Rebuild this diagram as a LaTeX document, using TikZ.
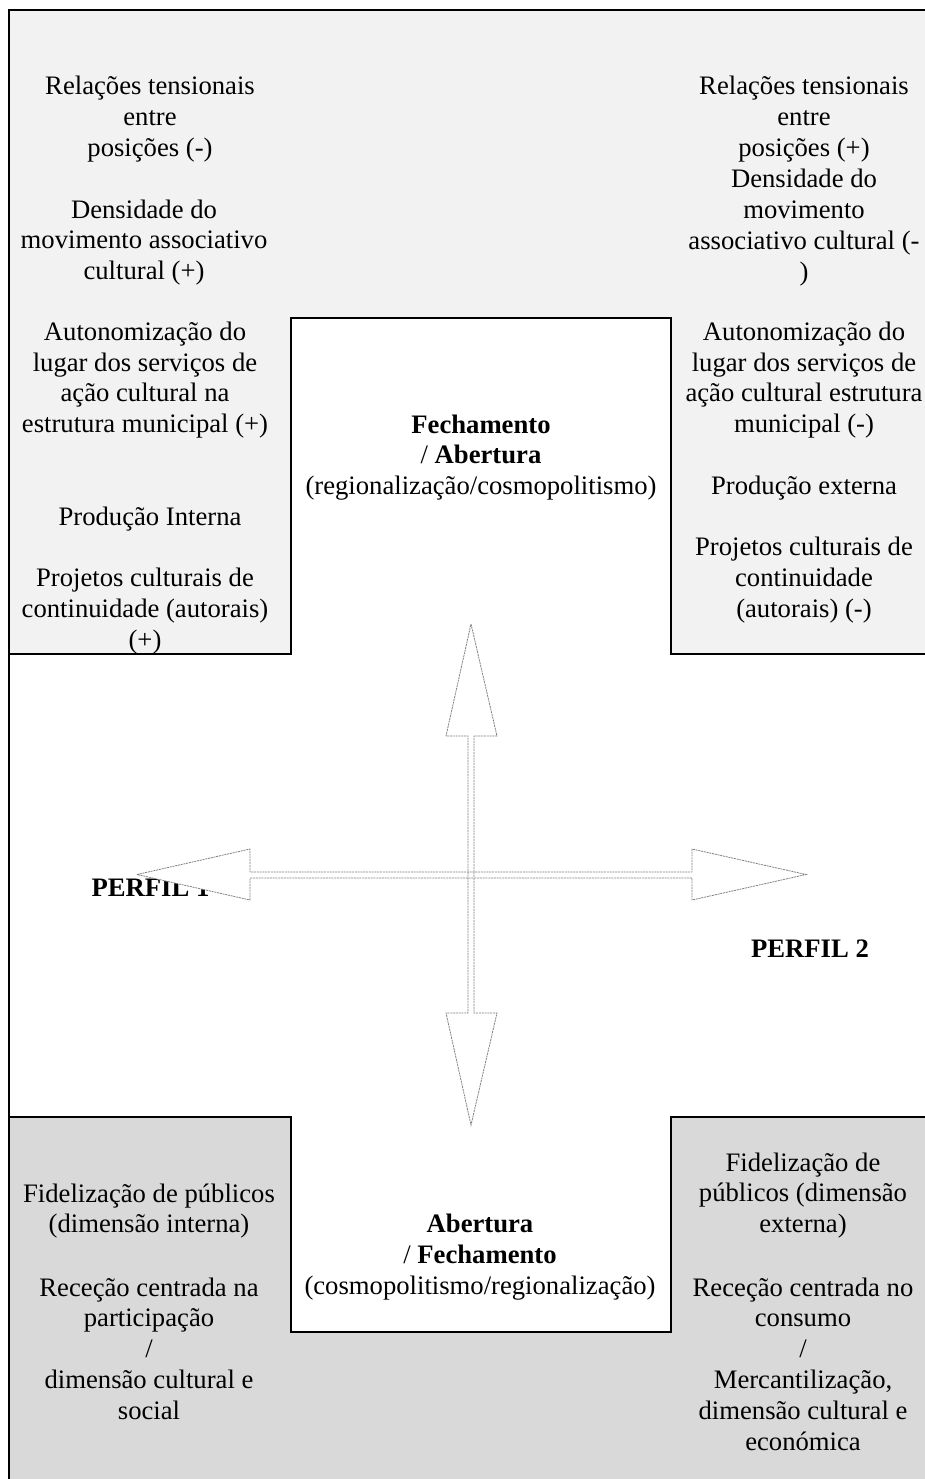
\documentclass[tikz,border=0pt]{standalone}
\usepackage{fontspec}
\setmainfont{Liberation Serif}
\definecolor{topgray}{HTML}{F2F2F2}
\definecolor{botgray}{HTML}{D9D9D9}
\definecolor{arrowgray}{HTML}{808080}
\begin{document}
\begin{tikzpicture}[x=0.75pt,y=-0.75pt,
  txt/.style={align=center,inner sep=0pt,font=\fontsize{20}{23.1}\selectfont},
  boldtxt/.style={inner sep=0pt,font=\fontsize{20}{23.1}\selectfont\bfseries},
  frame/.style={line width=2pt,black},
  blockarrow/.style={draw=arrowgray,fill=white,line width=0.6pt,dash pattern=on 1.5pt off 0.6pt}]
\useasboundingbox (0,0) rectangle (925,1479);
% gray regions
\fill[topgray] (9,10) -- (925,10) -- (925,654) -- (671,654) -- (671,318) -- (291,318) -- (291,654) -- (9,654) -- cycle;
\fill[botgray] (9,1117) -- (291,1117) -- (291,1332) -- (671,1332) -- (671,1117) -- (925,1117) -- (925,1479) -- (9,1479) -- cycle;
% frame lines
\draw[frame] (9,1479) -- (9,10) -- (925,10);
\draw[frame] (9,654) -- (291,654) -- (291,318) -- (671,318) -- (671,654) -- (925,654);
\draw[frame] (9,1117) -- (291,1117) -- (291,1332) -- (671,1332) -- (671,1117) -- (925,1117);
% top left texts
\node[txt] (l1) at (150,119) {Relações tensionais\\entre\\posições (-)};
\node[txt] (l2) at (144,242.5) {Densidade do\\movimento associativo\\cultural (+)};
\node[txt] (l3) at (145,380) {Autonomização do\\lugar dos serviços de\\ação cultural na\\estrutura municipal (+)};
\node[txt] (l4) at (150,519) {Produção Interna};
\node[txt] (l5) at (145,611) {Projetos culturais de\\continuidade (autorais)\\(+)};
% top right texts
\node[txt] (r1) at (804,119) {Relações tensionais\\entre\\posições (+)};
\node[txt] (r2) at (804,227.5) {Densidade do\\movimento\\associativo cultural (-\\)};
\node[txt] (r3) at (804,380) {Autonomização do\\lugar dos serviços de\\ação cultural estrutura\\municipal (-)};
\node[txt] (r4) at (804,488) {Produção externa};
\node[txt] (r5) at (804,580) {Projetos culturais de\\continuidade\\(autorais) (-)};
% centre boxes
\node[txt] (ctop) at (481,457.5) {\textbf{Fechamento}\\/ \textbf{Abertura}\\(regionalização/cosmopolitismo)};
\node[txt] (cbot) at (480,1257) {\textbf{Abertura}\\/ \textbf{Fechamento}\\(cosmopolitismo/regionalização)};
% bottom texts
\node[txt] (bl1) at (149,1211) {Fidelização de públicos\\(dimensão interna)};
\node[txt] (bl2) at (149,1348.5) {Receção centrada na\\participação\\/\\dimensão cultural e\\social};
\node[txt] (br1) at (803,1195.5) {Fidelização de\\públicos (dimensão\\externa)};
\node[txt] (br2) at (803,1364) {Receção centrada no\\consumo\\/\\Mercantilização,\\dimensão cultural e\\económica};
% profiles
\node[boldtxt,anchor=base] (p1) at (150.5,896) {PERFIL 1};
\node[boldtxt,anchor=base] (p2) at (810,957) {PERFIL 2};
% block arrows: fills first, then outlines
\fill[white] (471,624) -- (497,736) -- (474,736) -- (474,1013) -- (497,1013) -- (471,1125) -- (446,1013) -- (468,1013) -- (468,736) -- (446,736) -- cycle;
\fill[white] (137,874.5) -- (250,849) -- (250,872) -- (692,872) -- (692,849) -- (806,874.5) -- (692,900) -- (692,878) -- (250,878) -- (250,900) -- cycle;
\draw[blockarrow,fill=none] (471,624) -- (497,736) -- (474,736) -- (474,1013) -- (497,1013) -- (471,1125) -- (446,1013) -- (468,1013) -- (468,736) -- (446,736) -- cycle;
\draw[blockarrow,fill=none] (137,874.5) -- (250,849) -- (250,872) -- (692,872) -- (692,849) -- (806,874.5) -- (692,900) -- (692,878) -- (250,878) -- (250,900) -- cycle;
\end{tikzpicture}
\end{document}
